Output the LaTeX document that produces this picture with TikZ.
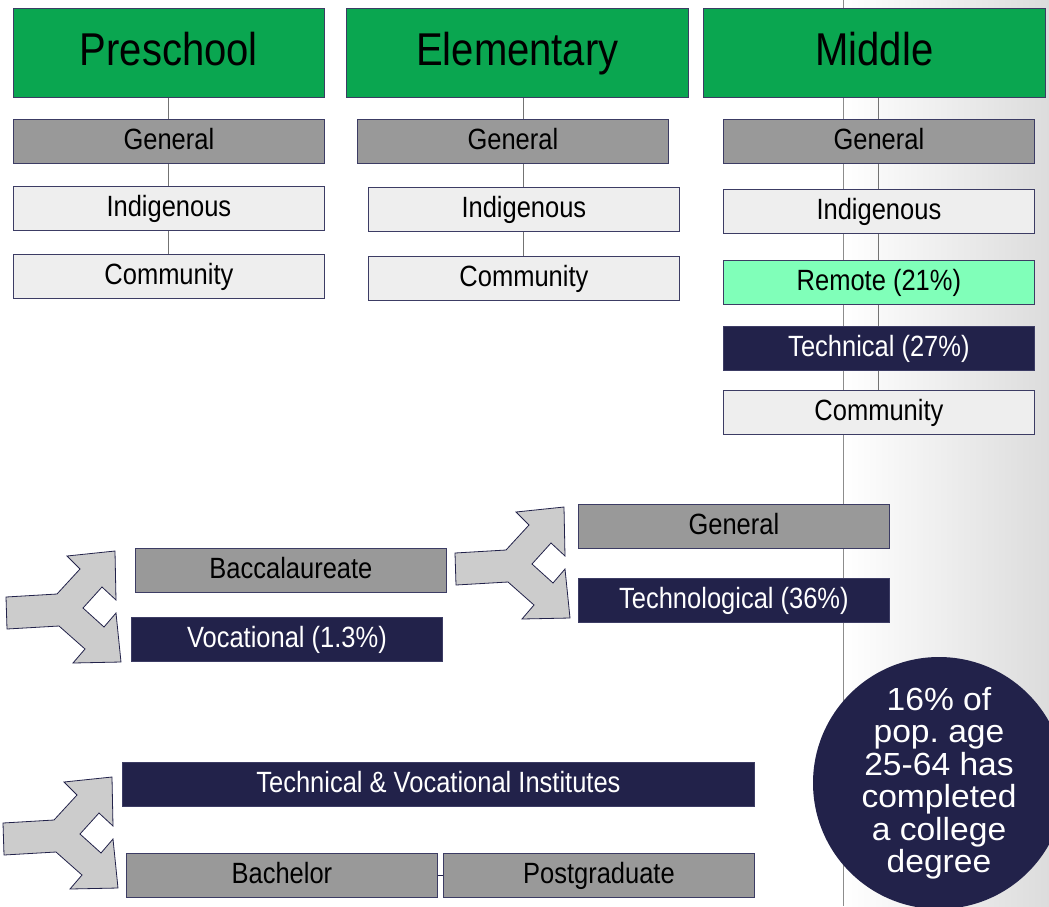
\documentclass[tikz,border=0pt]{standalone}
\usepackage{fontspec}
\setmainfont{Liberation Sans}
\newfontfamily\narrowfont{Liberation Sans}[FakeStretch=0.87]
\newfontfamily\widefont{Liberation Sans}[FakeStretch=1.05]
\frenchspacing
\definecolor{levelgreen}{HTML}{0AA650}
\definecolor{remotegreen}{HTML}{80FFB9}
\definecolor{navy}{HTML}{22224A}
\definecolor{midgray}{HTML}{999999}
\definecolor{lightbox}{HTML}{EEEEEE}
\definecolor{edge}{HTML}{3C3C64}
\definecolor{arrowfill}{HTML}{CCCCCC}
\definecolor{bgright}{HTML}{DCDCDC}
\pgfdeclarelayer{bglayer}
\pgfdeclarelayer{linelayer}
\pgfsetlayers{bglayer,linelayer,main}
\tikzset{
  box/.style={draw=edge, line width=0.8pt, minimum width=311pt, minimum height=44pt,
    inner sep=0pt, anchor=north west, text height=21pt, text depth=4.4pt,
    font=\narrowfont\fontsize{29.3}{31}\selectfont},
  graybox/.style={box, fill=midgray, text=black},
  lightbx/.style={box, fill=lightbox, text=black},
  navybox/.style={box, fill=navy, text=white},
  remotebox/.style={box, fill=remotegreen, text=black},
  levelbox/.style={box, fill=levelgreen, text=black, minimum height=89pt,
    text height=34pt, text depth=9pt,
    font=\narrowfont\fontsize{46}{48}\selectfont},
  colline/.style={draw=black!55, line width=1pt},
  forkshape/.style={draw=navy, line width=0.8pt, fill=arrowfill, line join=miter},
  fork/.pic={\path[forkshape] (0,0) -- (51,-3) -- (74,-28) -- (61,-41) -- (109,-46)
     -- (110,3) -- (96,-10) -- (77,11) -- (98,30) -- (110,16) -- (115,65)
     -- (67,66) -- (79,52) -- (53,29) -- (1,32) -- cycle;}
}
\begin{document}
\begin{tikzpicture}[x=1pt,y=-1pt]
\path[use as bounding box] (0,0) rectangle (1049,906);
\clip (0,0) rectangle (1049,906);
\begin{pgfonlayer}{bglayer}
\shade[left color=white, right color=bgright] (843,0) rectangle (1049,906);
\draw[black!45, line width=0.8pt] (843,0) -- (843,906);
\end{pgfonlayer}

% level headers
\node[levelbox, minimum width=311pt] (pre) at (13,8) {Preschool};
\node[levelbox, minimum width=342pt] (ele) at (346,8) {Elementary};
\node[levelbox, minimum width=342pt] (mid) at (703,8) {Middle};

% preschool column
\node[graybox] (pregen) at (13,119) {General};
\node[lightbx] (preind) at (13,186) {Indigenous};
\node[lightbx] (precom) at (13,254) {Community};

% elementary column
\node[graybox] (elegen) at (357,119) {General};
\node[lightbx] (eleind) at (368,187) {Indigenous};
\node[lightbx] (elecom) at (368,256) {Community};

% middle column
\node[graybox] (midgen) at (723,119) {General};
\node[lightbx] (midind) at (723,189) {Indigenous};
\node[remotebox] (midrem) at (723,260) {Remote (21\%)};
\node[navybox] (midtec) at (723,326) {Technical (27\%)};
\node[lightbx] (midcom) at (723,390) {Community};

% column connectors (behind boxes)
\begin{pgfonlayer}{linelayer}
\draw[colline] (pre.south -| precom.north) -- (precom.north);
\draw[colline] (ele.south -| elecom.north) -- (elecom.north);
\draw[colline] (mid.south -| midcom.north) -- (midcom.north);
\end{pgfonlayer}

% upper secondary
\node[graybox] (bac) at (135,548) {Baccalaureate};
\node[navybox] (voc) at (131,617) {Vocational (1.3\%)};
\node[graybox] (hgen) at (578,504) {General};
\node[navybox] (htec) at (578,578) {Technological (36\%)};

% tertiary
\node[navybox, minimum width=632pt] (tvi) at (122,762) {Technical \& Vocational Institutes};
\node[graybox] (bach) at (126,853) {Bachelor};
\node[graybox] (post) at (443,853) {Postgraduate};
\draw[draw=navy, line width=1pt] (bach.east) -- (post.west);

% fork arrows
\pic at (6,597) {fork};
\pic at (455,553) {fork};
\pic at (3,823) {fork};

% statistic circle
\node[circle, fill=navy, minimum size=252pt, inner sep=0pt, text=white, align=center,
  font=\widefont\fontsize{32}{32.5}\selectfont] (stat) at (939,783)
  {16\% of\\pop. age\\25-64 has\\completed\\a college\\degree};
\end{tikzpicture}
\end{document}
